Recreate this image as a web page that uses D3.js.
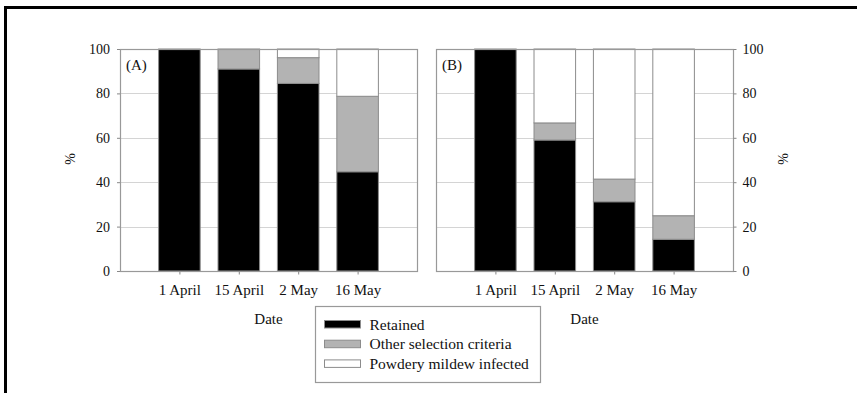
<!DOCTYPE html>
<html>
<head>
<meta charset="utf-8">
<script src="https://cdn.jsdelivr.net/npm/d3@7"></script>
<style>
  html, body { margin: 0; padding: 0; background: #fff; }
  svg { display: block; }
</style>
</head>
<body>
<svg id="chart" width="857" height="393"></svg>
<script>
// Sampling dates
const categories = ["1 April", "15 April", "2 May", "16 May"];

// Panel A (%)
const retainedA = [100, 91, 84.5, 44.7];
const otherA    = [0, 9, 11.6, 34];
const infectedA = [0, 0, 3.9, 21.3];

// Panel B (%)
const retainedB = [100, 59, 31.2, 14.3];
const otherB    = [0, 7.7, 10.2, 10.6];
const infectedB = [0, 33.3, 58.6, 75.1];

const yTicks = [0, 20, 40, 60, 80, 100];
const seriesNames = ["Retained", "Other selection criteria", "Powdery mildew infected"];
const seriesFill = ["#000000", "#b3b3b3", "#ffffff"];

const FONT = "'Liberation Serif', 'Times New Roman', serif";

const svg = d3.select("#chart");

// Outer frame (left and top rules)
svg.append("line").attr("x1", 5.5).attr("x2", 5.5).attr("y1", 6).attr("y2", 393)
  .attr("stroke", "#000").attr("stroke-width", 3);
svg.append("line").attr("x1", 4).attr("x2", 857).attr("y1", 7.5).attr("y2", 7.5)
  .attr("stroke", "#000").attr("stroke-width", 3);

const plotW = 297, plotH = 222, plotTop = 49;

function styleText(sel, size) {
  sel.style("font-family", FONT).style("font-size", size + "px").attr("fill", "#111");
}

function panel(left, label, retained, other, infected, axisSide) {
  const g = svg.append("g").attr("transform", `translate(${left},${plotTop})`);
  const x = d3.scaleLinear().domain([0, categories.length + 1]).range([0, plotW]);
  const y = d3.scaleLinear().domain([0, 100]).range([plotH, 0]);
  const step = x(1) - x(0);
  const bw = step * 0.7;

  // horizontal grid
  g.append("g").selectAll("line").data(yTicks.filter(t => t > 0 && t < 100)).join("line")
    .attr("x1", 0).attr("x2", plotW)
    .attr("y1", d => Math.round(y(d)) + 0.5).attr("y2", d => Math.round(y(d)) + 0.5)
    .attr("stroke", "#d4d4d4").attr("stroke-width", 1);

  // stacked bars
  const rows = categories.map((c, i) => ({ cat: c, idx: i + 1, s0: retained[i], s1: other[i], s2: infected[i] }));
  const stack = d3.stack().keys(["s0", "s1", "s2"])(rows);
  stack.forEach((layer, k) => {
    g.append("g").selectAll("rect").data(layer.filter(d => d[1] - d[0] > 0)).join("rect")
      .attr("x", d => x(d.data.idx) - bw / 2)
      .attr("y", d => y(d[1]))
      .attr("width", bw)
      .attr("height", d => y(d[0]) - y(d[1]))
      .attr("fill", seriesFill[k])
      .attr("stroke", "#8c8c8c").attr("stroke-width", 1);
  });

  // plot frame
  g.append("rect").attr("x", 0.5).attr("y", 0.5).attr("width", plotW).attr("height", plotH)
    .attr("fill", "none").attr("stroke", "#999").attr("stroke-width", 1.2);

  // x axis
  const xAxis = d3.axisBottom(x)
    .tickValues(categories.map((c, i) => i + 1))
    .tickFormat(d => categories[d - 1])
    .tickSize(3).tickSizeOuter(0).tickPadding(10);
  const xg = g.append("g").attr("transform", `translate(0,${plotH + 0.5})`).call(xAxis);
  xg.select(".domain").remove();
  xg.selectAll(".tick line").attr("stroke", "#888");
  styleText(xg.selectAll("text"), 15);

  // y axis
  const yAxis = (axisSide === "left" ? d3.axisLeft(y) : d3.axisRight(y))
    .tickValues(yTicks).tickSize(3).tickSizeOuter(0).tickPadding(axisSide === "left" ? 7 : 6);
  const yg = g.append("g").attr("transform", `translate(${axisSide === "left" ? 0 : plotW + 0.5},0)`).call(yAxis);
  yg.select(".domain").remove();
  yg.selectAll(".tick line").attr("stroke", "#888");
  styleText(yg.selectAll("text"), 14);

  // axis titles
  styleText(g.append("text").attr("x", plotW / 2).attr("y", 275).attr("text-anchor", "middle").text("Date"), 15);
  const px = axisSide === "left" ? -50 : plotW + 50;
  styleText(g.append("text").attr("transform", `translate(${px},${110}) rotate(-90)`)
    .attr("text-anchor", "middle").attr("dy", "0.35em").text("%"), 14);

  // panel tag
  styleText(g.append("text").attr("x", 6).attr("y", 21).text(label), 15);
}

panel(120, "(A)", retainedA, otherA, infectedA, "left");
panel(436, "(B)", retainedB, otherB, infectedB, "right");

// legend
const lg = svg.append("g").attr("transform", "translate(315.5,306.5)");
lg.append("rect").attr("width", 225).attr("height", 76)
  .attr("fill", "#fff").attr("stroke", "#999").attr("stroke-width", 1.2);
seriesNames.forEach((name, i) => {
  const row = lg.append("g").attr("transform", `translate(0,${14 + i * 19.7})`);
  row.append("rect").attr("x", 9).attr("y", 0).attr("width", 36).attr("height", 7.5)
    .attr("fill", seriesFill[i]).attr("stroke", "#8c8c8c").attr("stroke-width", 1);
  styleText(row.append("text").attr("x", 54).attr("y", 9).text(name), 15.5);
});
</script>
</body>
</html>
